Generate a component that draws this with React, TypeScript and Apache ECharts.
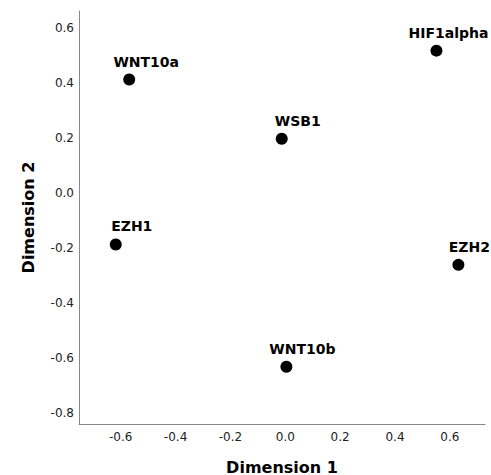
import React, { useEffect, useRef } from "react";
import * as echarts from "echarts";

const names = ["WNT10a", "HIF1alpha", "WSB1", "EZH1", "EZH2", "WNT10b"];
const dim1 = [-0.569, 0.551, -0.013, -0.618, 0.631, 0.004];
const dim2 = [0.411, 0.516, 0.196, -0.188, -0.262, -0.632];
const xTicks = [-0.6, -0.4, -0.2, 0.0, 0.2, 0.4, 0.6];
const yTicks = [-0.8, -0.6, -0.4, -0.2, 0.0, 0.2, 0.4, 0.6];

// label horizontal shifts (style only)
const labelShift: Record<string, number> = {
  WNT10a: 17,
  HIF1alpha: 12,
  WSB1: 16,
  EZH1: 16,
  EZH2: 11,
  WNT10b: 16,
};

const FONT = "DejaVu Sans";

export default function App() {
  const ref = useRef<HTMLDivElement>(null);
  useEffect(() => {
    if (!ref.current) return;
    const chart = echarts.init(ref.current, null, { renderer: "svg" });
    const data = names.map((n, i) => ({
      name: n,
      value: [dim1[i], dim2[i]],
      label: { offset: [labelShift[n], -1] },
    }));
    chart.setOption({
      animation: false,
      backgroundColor: "#ffffff",
      grid: { left: 79, right: 6, top: 11, bottom: 51, containLabel: false, outerBoundsMode: "none" },
      xAxis: {
        type: "value",
        min: -0.752,
        max: 0.728,
        name: "Dimension 1",
        nameLocation: "middle",
        nameGap: 35,
        nameTextStyle: { fontFamily: FONT, fontWeight: "bold", fontSize: 16, color: "#000" },
        axisLine: { show: true, onZero: false, lineStyle: { color: "#888", width: 1 } },
        axisTick: { show: false },
        splitLine: { show: false },
        axisLabel: {
          customValues: xTicks,
          formatter: (v: number) => v.toFixed(1),
          fontFamily: FONT,
          fontSize: 12,
          color: "#222",
          margin: 7,
        },
      },
      yAxis: {
        type: "value",
        min: -0.84,
        max: 0.66,
        name: "Dimension 2",
        nameLocation: "middle",
        nameGap: 43,
        nameRotate: 90,
        nameTextStyle: { fontFamily: FONT, fontWeight: "bold", fontSize: 16, color: "#000" },
        axisLine: { show: true, onZero: false, lineStyle: { color: "#888", width: 1 } },
        axisTick: { show: false },
        splitLine: { show: false },
        axisLabel: {
          customValues: yTicks,
          formatter: (v: number) => v.toFixed(1),
          fontFamily: FONT,
          fontSize: 12,
          color: "#222",
          margin: 5,
        },
      },
      series: [
        {
          type: "scatter",
          symbol: "circle",
          symbolSize: 12,
          itemStyle: { color: "#000", opacity: 1 },
          label: {
            show: true,
            position: "top",
            distance: 4,
            formatter: (p: any) => p.name,
            fontFamily: FONT,
            fontWeight: "bold",
            fontSize: 14,
            color: "#000",
          },
          data,
        },
      ],
    });
    return () => chart.dispose();
  }, []);
  return (
    <div
      ref={ref}
      style={{ position: "fixed", left: 0, top: 0, width: 491, height: 475, background: "#fff" }}
    />
  );
}
